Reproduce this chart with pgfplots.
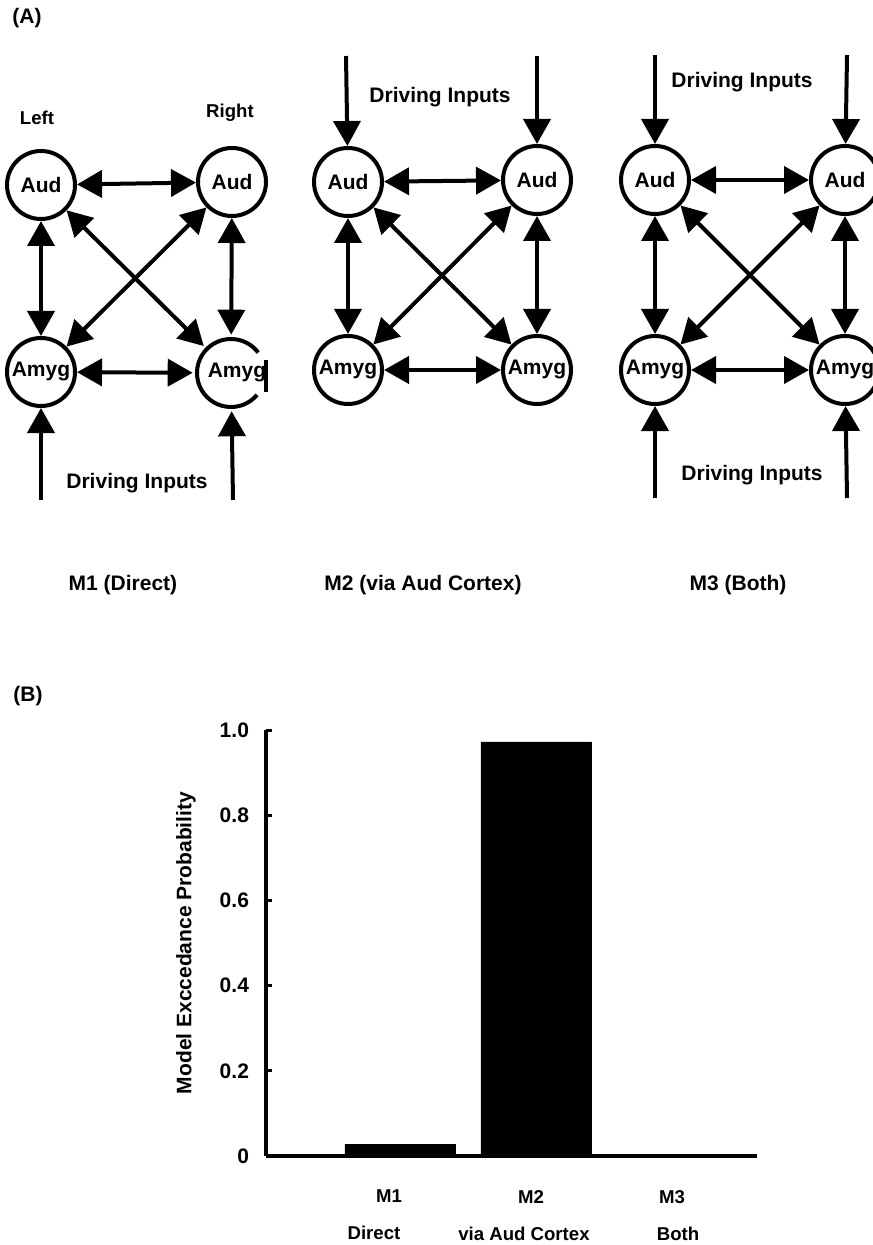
\documentclass[border=0pt]{standalone}
\usepackage{fontspec}
\setmainfont{Liberation Sans}
\usepackage{pgfplots}
\pgfplotsset{compat=1.18}
\usetikzlibrary{arrows.meta}
\begin{document}
\begin{tikzpicture}
\path[use as bounding box] (0,0) rectangle (436pt,-622.5pt);
\begin{scope}[x=0.5pt,y=-0.5pt, font=\bfseries\fontsize{10.5}{12.6}\selectfont,
 nd/.style={circle, draw, line width=2pt, minimum size=34pt, inner sep=0pt},
 ar/.style={line width=2pt, {Triangle[length=12.5pt,width=13.5pt]}-{Triangle[length=12.5pt,width=13.5pt]}},
 ain/.style={line width=2pt, -{Triangle[length=12.5pt,width=13.5pt]}}]
% panel labels
\node at (27,18) {(A)};
\node at (28,696) {(B)};
% ---------- M1 ----------
\node[font=\bfseries\fontsize{9.3}{11}\selectfont] at (37,118) {Left};
\node[font=\bfseries\fontsize{9.3}{11}\selectfont] at (230,113) {Right};
\node[nd] (a1l) at (41,185) {Aud};
\node[nd] (a1r) at (232,182) {Aud};
\node[nd] (g1l) at (41,372) {Amyg};
\node[circle, line width=2pt, minimum size=34pt, inner sep=0pt] (g1r) at (231,373) {\hspace*{6pt}Amyg};
\draw[line width=2pt] ([shift={(37:17pt)}]g1r.center) arc[start angle=37,end angle=320,radius=17pt];
\draw[line width=2pt] (266,360) -- (266,392);
\draw[ar] (a1l) -- (a1r);
\draw[ar] (g1l) -- (g1r);
\draw[ar] (a1l) -- (g1l);
\draw[ar] (a1r) -- (g1r);
\draw[ar] (a1l) -- (g1r);
\draw[ar] (a1r) -- (g1l);
\draw[ain] (41,500) -- (g1l);
\draw[ain] (233,500) -- (g1r);
\node at (137,483) {Driving Inputs};
% ---------- M2 ----------
\node[nd] (a2l) at (348,182) {Aud};
\node[nd] (a2r) at (537,180) {Aud};
\node[nd] (g2l) at (348,370) {Amyg};
\node[nd] (g2r) at (537,370) {Amyg};
\draw[ar] (a2l) -- (a2r);
\draw[ar] (g2l) -- (g2r);
\draw[ar] (a2l) -- (g2l);
\draw[ar] (a2r) -- (g2r);
\draw[ar] (a2l) -- (g2r);
\draw[ar] (a2r) -- (g2l);
\draw[ain] (346,56) -- (a2l);
\draw[ain] (537,56) -- (a2r);
\node at (440,97) {Driving Inputs};
% ---------- M3 ----------
\node[nd] (a3l) at (655,180) {Aud};
\node[nd] (a3r) at (845,180) {Aud};
\node[nd] (g3l) at (655,370) {Amyg};
\node[nd] (g3r) at (845,370) {Amyg};
\draw[ar] (a3l) -- (a3r);
\draw[ar] (g3l) -- (g3r);
\draw[ar] (a3l) -- (g3l);
\draw[ar] (a3r) -- (g3r);
\draw[ar] (a3l) -- (g3r);
\draw[ar] (a3r) -- (g3l);
\draw[ain] (655,55) -- (a3l);
\draw[ain] (847,55) -- (a3r);
\draw[ain] (655,498) -- (g3l);
\draw[ain] (847,498) -- (g3r);
\node at (742,82) {Driving Inputs};
\node at (752,475) {Driving Inputs};
% model labels
\node at (123,585) {M1 (Direct)};
\node at (423,585) {M2 (via Aud Cortex)};
\node at (738,585) {M3 (Both)};
\end{scope}
\begin{axis}[at={(133pt,-578pt)}, anchor=south west, scale only axis,
 width=245.5pt, height=213pt,
 xmin=0.015, xmax=3.625, ymin=0, ymax=1,
 axis x line=bottom, axis y line=left,
 axis line style={-, line width=2.2pt},
 ytick={0,0.2,0.4,0.6,0.8,1}, yticklabels={0,0.2,0.4,0.6,0.8,1.0},
 tick align=inside, major tick length=3pt,
 ytick style={line width=1.5pt, black},
 xtick={1,2,3},
 xticklabels={{M1\kern11pt\\[7.5pt]Direct\kern26pt},{M2\kern5pt\\[7.5pt]via Aud Cortex\kern12pt},{M3\\[7.5pt]Both\kern-6pt}},
 xtick style={draw=none},
 yticklabel style={font=\bfseries\fontsize{10.5}{12.6}\selectfont, xshift=-5pt},
 xticklabel style={align=center, font=\bfseries\fontsize{9.3}{11}\selectfont, yshift=-13.5pt},
 ylabel={Model Exccedance Probability},
 ylabel style={at={(axis description cs:-0.163,0.5)}, anchor=center, rotate=0,
   font=\bfseries\fontsize{10.5}{12.6}\selectfont},
 clip=false]
\addplot[ybar, bar width=55pt, fill=black, draw=black] coordinates {(1,0.028) (2,0.972) (3,0.004)};
\end{axis}
\end{tikzpicture}
\end{document}
